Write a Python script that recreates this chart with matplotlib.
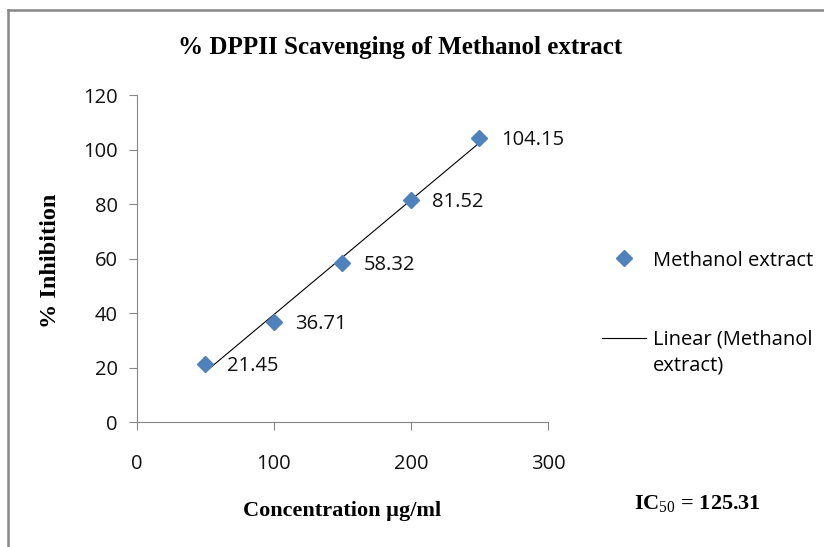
import numpy as np
import matplotlib.pyplot as plt
from matplotlib.lines import Line2D

# Дані
concentration = [50, 100, 150, 200, 250]
inhibition = [21.45, 36.71, 58.32, 81.52, 104.15]
x_ticks = [0, 100, 200, 300]
y_ticks = [0, 20, 40, 60, 80, 100, 120]
ic50_value = "125.31"

blue = '#4F81BD'
grey = '#878787'
sans = ['Open Sans', 'DejaVu Sans']
serif = ['Liberation Serif', 'DejaVu Serif']

plt.rcParams['mathtext.fontset'] = 'custom'
plt.rcParams['mathtext.rm'] = 'Liberation Serif'

fig = plt.figure(figsize=(8.24, 5.47), dpi=100)
ax = fig.add_axes([0.166, 0.2285, 0.499, 0.5978])

# Лінійний тренд
k, b = np.polyfit(concentration, inhibition, 1)
xs = np.array([concentration[0], concentration[-1]])
trend, = ax.plot(xs, k * xs + b, color='black', lw=0.8)
pts, = ax.plot(concentration, inhibition, 'D', color=blue, ms=8.5, linestyle='none')

for xv, yv in zip(concentration, inhibition):
    ax.annotate(f'{yv:.2f}', (xv, yv), xytext=(15.5, -1.5), textcoords='offset points',
                va='center', ha='left', fontsize=14.5, family=sans, color='#111111')

ax.set_xlim(0, 300)
ax.set_ylim(0, 120)
ax.set_xticks(x_ticks)
ax.set_yticks(y_ticks)
for s in ['top', 'right']:
    ax.spines[s].set_visible(False)
for s in ['left', 'bottom']:
    ax.spines[s].set_color(grey)
    ax.spines[s].set_linewidth(0.8)
ax.tick_params(colors=grey, length=5.8, width=0.8, labelsize=14.5, labelcolor='#111111')
ax.tick_params(axis='y', pad=8)
ax.tick_params(axis='x', pad=17)
for lab in ax.get_xticklabels() + ax.get_yticklabels():
    lab.set_family(sans)

fig.text(0.485, 0.914, '% DPPII Scavenging of Methanol extract', ha='center', va='center',
         fontsize=18, fontweight='bold', family=serif)
fig.text(0.061, 0.523, '% Inhibition', rotation=90, ha='center', va='center',
         fontsize=17.5, fontweight='bold', family=serif)
fig.text(0.415, 0.066, 'Concentration µg/ml', ha='center', va='center',
         fontsize=16, fontweight='bold', family=serif)
fig.text(0.770, 0.079, r'IC$_{\mathrm{50}}$ = ' + ic50_value, ha='left', va='center',
         fontsize=16, fontweight='bold', family=serif)

leg = fig.legend([pts, trend], ['Methanol extract', 'Linear (Methanol'],
                 loc='upper left', bbox_to_anchor=(0.731, 0.542),
                 frameon=False, prop={'family': sans, 'size': 14.5},
                 borderpad=0, borderaxespad=0,
                 handlelength=2.15, handletextpad=0.35, labelspacing=2.95)

# другий рядок підпису тренду
fig.canvas.draw()
tb = leg.get_texts()[1].get_window_extent()
fig.text(tb.x0 / fig.bbox.width, (tb.y0 + tb.y1) / 2 / fig.bbox.height - 26 / fig.bbox.height,
         'extract)', ha='left', va='center', fontsize=14.5, family=sans)

# Рамка
fig.add_artist(Line2D([0.0098, 1.0], [0.9817, 0.9817], transform=fig.transFigure,
                      color=grey, lw=1.8))
fig.add_artist(Line2D([0.0098, 0.0098], [0.0, 0.9817], transform=fig.transFigure,
                      color=grey, lw=1.8))

fig.savefig('out.png', dpi=100, facecolor='white')
